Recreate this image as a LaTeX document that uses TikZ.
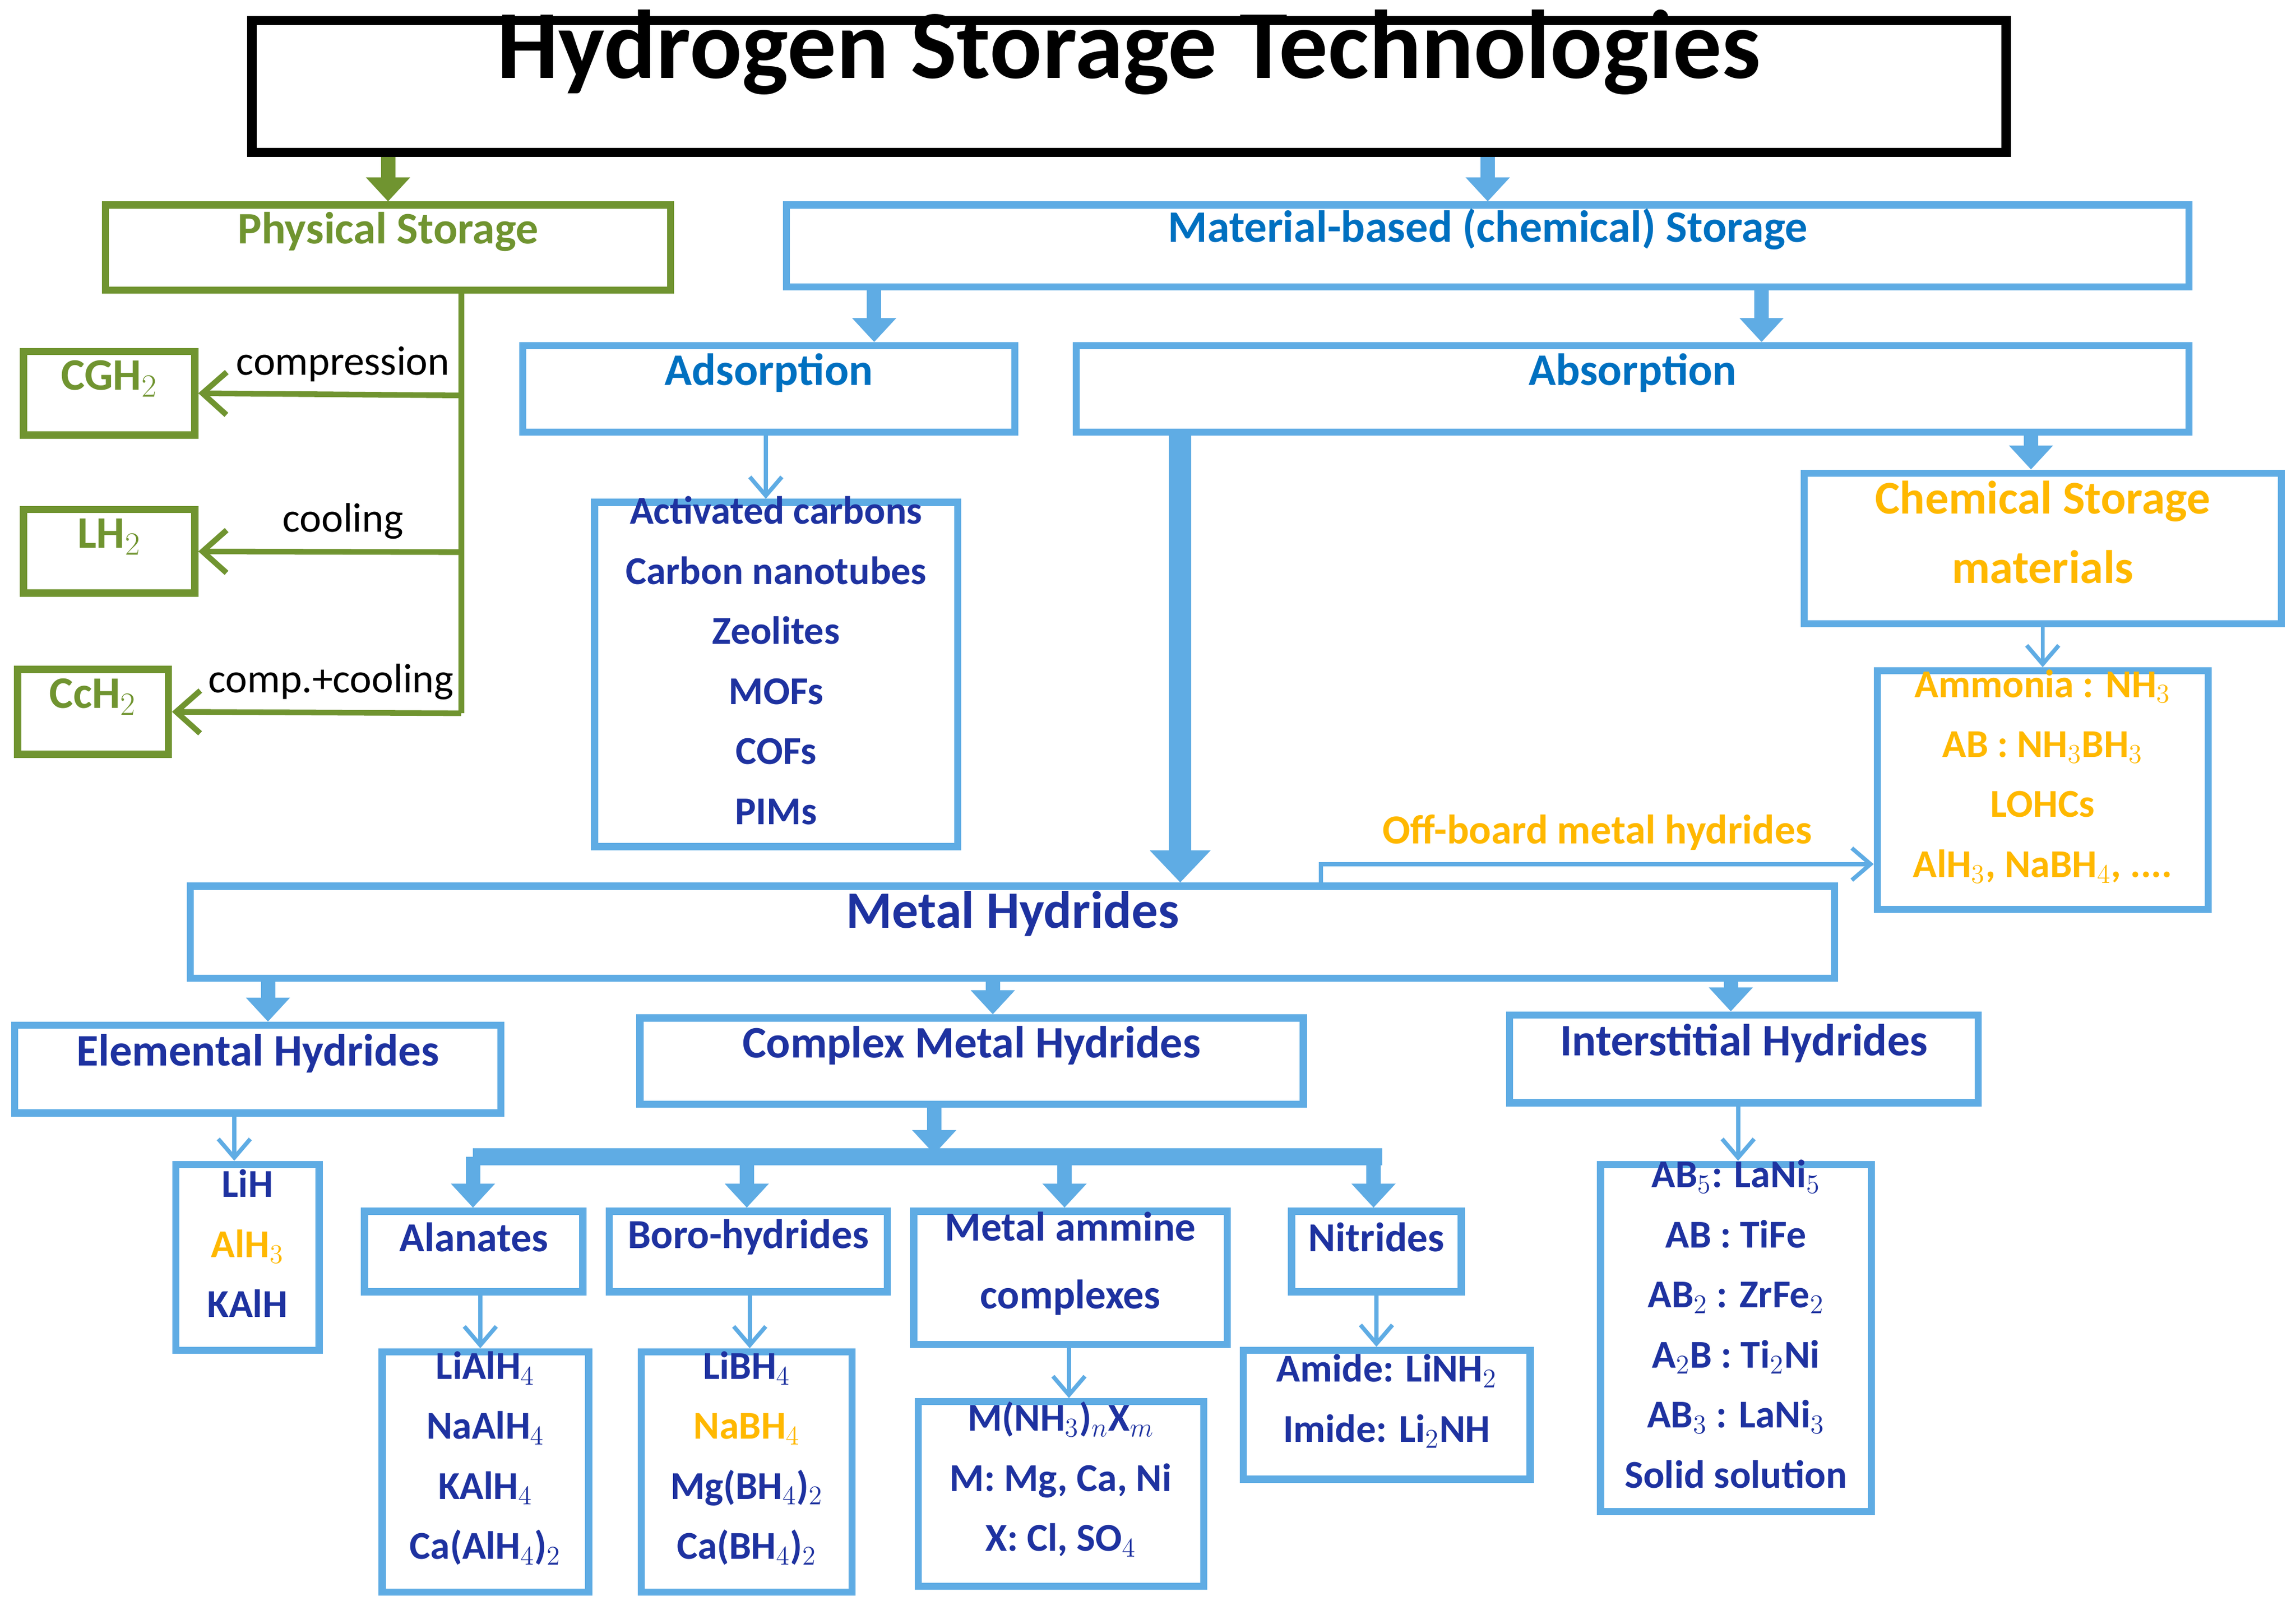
\documentclass[tikz,border=0pt]{standalone}
\usepackage{fontspec}
\setmainfont{Carlito}
\usetikzlibrary{arrows.meta, fit, calc}
\definecolor{grn}{RGB}{112,148,48}
\definecolor{lblue}{RGB}{95,172,228}
\definecolor{hblue}{RGB}{0,112,192}
\definecolor{dblue}{RGB}{30,50,160}
\definecolor{orng}{RGB}{255,184,0}

\begin{document}
\begin{tikzpicture}
    [
        x=0.02744cm, y=-0.02744cm,
        box/.style={draw=lblue, line width=3.8pt, inner sep=0pt, align=center, font=\fontsize{24}{29}\selectfont\bfseries},
        gbox/.style={draw=grn, line width=3.8pt, inner sep=0pt, align=center, text=grn, font=\fontsize{24}{29}\selectfont\bfseries},
        list/.style={box, text=dblue, font=\fontsize{21}{32}\selectfont\bfseries},
        blk/.style={draw=lblue, line width=2.7mm, -{Triangle[length=4.5mm,width=8mm]}},
        gblk/.style={blk, draw=grn},
        thin/.style={draw=lblue, line width=2.2pt, -{Straight Barb[length=3.5mm,width=6mm]}},
        gthin/.style={draw=grn, line width=3pt, -{Straight Barb[length=4.5mm,width=8mm]}},
        lbl/.style={font=\fontsize{22}{26}\selectfont}
    ]
    \useasboundingbox (0,0) rectangle (1568,1099);

    % Top
    \node[draw, line width=5pt, inner sep=0pt, fit={(172,14) (1370,104)},
          font=\fontsize{52}{60}\selectfont\bfseries] (title) {Hydrogen Storage Technologies};

    % Physical storage
    \node[gbox, fit={(72,140) (458,198)}] (phys) {Physical Storage};
    \draw[gblk] (title.south -| phys.north) -- (phys.north);
    \node[gbox, fit={(16,240) (133,297)}] (cgh) {CGH$_2$};
    \node[gbox, fit={(16,348) (133,405)}] (lh) {LH$_2$};
    \node[gbox, fit={(12,457) (115,515)}] (cch) {CcH$_2$};
    \coordinate (trunk) at (315,487);
    \draw[grn, line width=3pt] (phys.south -| trunk) -- (trunk);
    \draw[gthin] (315,270) -- (cgh.east) node[lbl, pos=0.45, above=2pt] {compression};
    \draw[gthin] (315,377) -- (lh.east) node[lbl, pos=0.45, above=2pt] {cooling};
    \draw[gthin] (trunk) -- (cch.east) node[lbl, pos=0.45, above=2pt] {comp.+cooling};

    % Material-based storage
    \node[box, text=hblue, fit={(537,140) (1495,196)}] (mat) {Material-based (chemical) Storage};
    \draw[blk] (title.south -| mat.north) -- (mat.north);
    \node[box, text=hblue, fit={(357,236) (693,295)}] (ads) {Adsorption};
    \node[box, text=hblue, fit={(735,236) (1495,295)}] (abs) {Absorption};
    \draw[blk] (mat.south -| 597,0) -- (ads.north -| 597,0);
    \draw[blk] (mat.south -| 1203,0) -- (abs.north -| 1203,0);

    % Adsorbents
    \node[list, fit={(406,343) (654,578)}] (adslist)
        {Activated carbons\\Carbon nanotubes\\Zeolites\\MOFs\\COFs\\PIMs};
    \draw[thin] (ads.south -| 523,0) -- (adslist.north -| 523,0);

    % Chemical storage
    \node[box, text=orng, font=\fontsize{25}{37}\selectfont\bfseries, fit={(1232,323) (1558,426)}] (chem)
        {Chemical Storage\\materials};
    \draw[blk] (abs.south -| 1387,0) -- (chem.north -| 1387,0);
    \node[list, text=orng, fit={(1282,458) (1508,621)}] (chemlist)
        {Ammonia : NH$_3$\\AB : NH$_3$BH$_3$\\LOHCs\\AlH$_3$, NaBH$_4$, ....};
    \draw[thin] (chem.south -| 1395,0) -- (chemlist.north -| 1395,0);

    % Metal hydrides
    \node[box, text=dblue, font=\fontsize{28}{34}\selectfont\bfseries, fit={(130,605) (1253,668)}] (mh) {Metal Hydrides};
    \draw[blk, line width=4.2mm, -{Triangle[length=6mm,width=11mm]}] (abs.south -| 806,0) -- (mh.north -| 806,0);
    \draw[thin] (mh.north -| 902,0) -- (902,590) -- (chemlist.west |- 0,590)
        node[text=orng, pos=0.5, above=3pt, font=\fontsize{22}{26}\selectfont\bfseries] {Off-board metal hydrides};

    \node[box, text=dblue, fit={(10,700) (342,760)}] (elem) {Elemental Hydrides};
    \node[box, text=dblue, fit={(437,695) (890,754)}] (cplx) {Complex Metal Hydrides};
    \node[box, text=dblue, fit={(1031,693) (1351,753)}] (inter) {Interstitial Hydrides};
    \draw[blk] (mh.south -| 183,0) -- (elem.north -| 183,0);
    \draw[blk] (mh.south -| 678,0) -- (cplx.north -| 678,0);
    \draw[blk] (mh.south -| 1182,0) -- (inter.north -| 1182,0);

    \node[list, fit={(120,795) (218,922)}] (elemlist) {LiH\\\textcolor{orng}{AlH$_3$}\\KAlH};
    \draw[thin] (elem.south -| 160,0) -- (elemlist.north -| 160,0);
    \node[list, fit={(1093,795) (1278,1032)}] (interlist)
        {AB$_5$: LaNi$_5$\\AB : TiFe\\AB$_2$ : ZrFe$_2$\\A$_2$B : Ti$_2$Ni\\AB$_3$ : LaNi$_3$\\Solid solution};
    \draw[thin] (inter.south -| 1187,0) -- (interlist.north -| 1187,0);

    % Complex metal hydrides
    \node[box, text=dblue, font=\fontsize{22}{36}\selectfont\bfseries, fit={(249,827) (398,882)}] (alan) {Alanates};
    \node[box, text=dblue, font=\fontsize{22}{36}\selectfont\bfseries, fit={(416,827) (606,882)}] (boro) {Boro-hydrides};
    \node[box, text=dblue, font=\fontsize{22}{36}\selectfont\bfseries, fit={(624,827) (838,918)}] (amm) {Metal ammine\\complexes};
    \node[box, text=dblue, font=\fontsize{22}{36}\selectfont\bfseries, fit={(882,827) (998,882)}] (nitr) {Nitrides};
    \coordinate (barL) at (323,790);
    \coordinate (barR) at (944,790);
    \draw[blk] (cplx.south -| 638,0) -- (638,788);
    \draw[lblue, line width=3.2mm] (barL) -- (barR);
    \foreach \n/\x in {alan/323, boro/510, amm/727, nitr/938}
        \draw[blk] (\x,790) -- (\n.north -| \x,0);

    \node[list, fit={(261,923) (402,1087)}] (alanlist)
        {LiAlH$_4$\\NaAlH$_4$\\KAlH$_4$\\Ca(AlH$_4$)$_2$};
    \node[list, fit={(438,923) (582,1087)}] (borolist)
        {LiBH$_4$\\\textcolor{orng}{NaBH$_4$}\\Mg(BH$_4$)$_2$\\Ca(BH$_4$)$_2$};
    \node[list, fit={(627,957) (822,1083)}] (ammlist)
        {M(NH$_3$)$_n$X$_m$\\M: Mg, Ca, Ni\\X: Cl, SO$_4$};
    \node[list, fit={(849,922) (1045,1010)}] (nitrlist)
        {Amide: LiNH$_2$\\Imide: Li$_2$NH};
    \draw[thin] (alan.south -| 328,0) -- (alanlist.north -| 328,0);
    \draw[thin] (boro.south -| 512,0) -- (borolist.north -| 512,0);
    \draw[thin] (amm.south -| 730,0) -- (ammlist.north -| 730,0);
    \draw[thin] (nitr.south -| 940,0) -- (nitrlist.north -| 940,0);
\end{tikzpicture}
\end{document}
